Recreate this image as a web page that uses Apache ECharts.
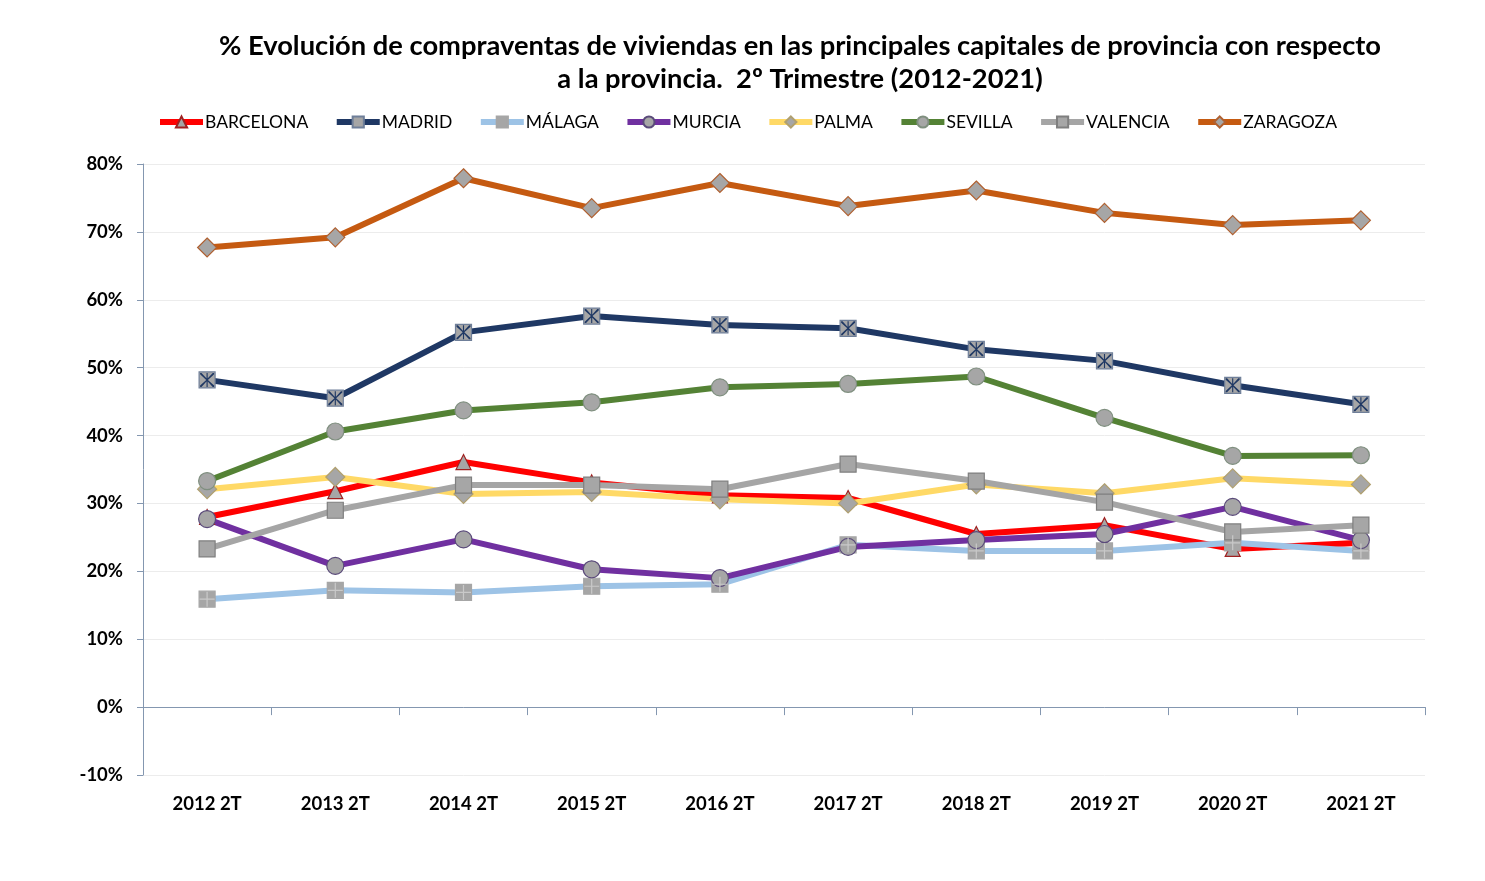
<!DOCTYPE html>
<html>
<head>
<meta charset="utf-8">
<script src="https://cdn.jsdelivr.net/npm/echarts@6/dist/echarts.min.js"></script>
<style>
  html, body { margin: 0; padding: 0; background: #fff; }
  #chart { width: 1485px; height: 881px; }
</style>
</head>
<body>
<div id="chart"></div>
<script>
const categories = ['2012 2T', '2013 2T', '2014 2T', '2015 2T', '2016 2T', '2017 2T', '2018 2T', '2019 2T', '2020 2T', '2021 2T'];
const yTicks = [-10, 80, 10]; // min, max, interval

const barcelona = [28.0, 31.8, 36.1, 33.1, 31.2, 30.8, 25.5, 26.8, 23.3, 24.2];
const madrid    = [48.2, 45.5, 55.2, 57.6, 56.3, 55.8, 52.7, 51.0, 47.4, 44.6];
const malaga    = [15.9, 17.2, 16.9, 17.8, 18.1, 23.9, 23.0, 23.0, 24.2, 23.0];
const murcia    = [27.7, 20.8, 24.7, 20.3, 19.0, 23.6, 24.6, 25.5, 29.5, 24.6];
const palma     = [32.1, 33.9, 31.4, 31.7, 30.6, 30.0, 32.8, 31.5, 33.7, 32.8];
const sevilla   = [33.3, 40.6, 43.7, 44.9, 47.1, 47.6, 48.7, 42.6, 37.0, 37.1];
const valencia  = [23.3, 29.0, 32.7, 32.7, 32.1, 35.8, 33.3, 30.2, 25.8, 26.8];
const zaragoza  = [67.7, 69.2, 77.9, 73.5, 77.2, 73.8, 76.1, 72.8, 71.0, 71.7];

const names = ['BARCELONA', 'MADRID', 'MÁLAGA', 'MURCIA', 'PALMA', 'SEVILLA', 'VALENCIA', 'ZARAGOZA'];

const FONT = 'Lato';
const MARK = '#a6a6a6';

function lineSeries(name, data, color, symbol, size, border) {
    return {
        name: name,
        type: 'line',
        data: data,
        symbol: symbol,
        symbolSize: size,
        showAllSymbol: true,
        lineStyle: { color: color, width: 6 },
        itemStyle: { color: MARK, borderColor: border, borderWidth: 1.2 },
        emphasis: { disabled: true },
        z: 2
    };
}

function overlay(name, data, color, path, size) {
    return {
        name: name,
        type: 'line',
        data: data,
        symbol: path,
        symbolSize: size,
        lineStyle: { opacity: 0 },
        itemStyle: { color: color },
        silent: true,
        z: 3
    };
}

const starPath = 'path://M0,0L1,0L5,4.4L9,0L10,0L10,1L5.6,5L10,9L10,10L9,10L5,5.6L1,10L0,10L0,9L4.4,5L0,1Z M4.6,0L5.4,0L5.4,10L4.6,10Z';
const crossPath = 'path://M4.6,0L5.4,0L5.4,4.6L10,4.6L10,5.4L5.4,5.4L5.4,10L4.6,10L4.6,5.4L0,5.4L0,4.6L4.6,4.6Z';

const chart = echarts.init(document.getElementById('chart'));

chart.setOption({
    backgroundColor: '#fff',
    animation: false,
    title: {
        text: '% Evolución de compraventas de viviendas en las principales capitales de provincia con respecto\na la provincia.  2º Trimestre (2012-2021)',
        left: 795,
        top: 25,
        textAlign: 'center',
        textStyle: { fontFamily: FONT, fontSize: 27.3, fontWeight: 'bold', color: '#000', lineHeight: 33 }
    },
    legend: {
        data: names,
        left: 152,
        top: 108,
        itemWidth: 43,
        itemHeight: 14,
        itemGap: 25.5,
        lineStyle: { width: 6 },
        textStyle: { fontFamily: FONT, fontSize: 17.5, color: '#000', padding: [0, 0, 0, -3] }
    },
    grid: { left: 143, right: 60, top: 164, bottom: 106, containLabel: false },
    xAxis: [
        {
            type: 'category',
            data: categories,
            boundaryGap: true,
            axisLine: { onZero: true, lineStyle: { color: '#8497b0', width: 1 } },
            axisTick: { show: true, length: 8, lineStyle: { color: '#8497b0' } },
            axisLabel: { show: false }
        },
        {
            type: 'category',
            data: categories,
            position: 'bottom',
            boundaryGap: true,
            axisLine: { show: false },
            axisTick: { show: false },
            axisLabel: { margin: 20, fontFamily: FONT, fontSize: 18.5, fontWeight: 'bold', color: '#000' }
        }
    ],
    yAxis: {
        type: 'value',
        min: yTicks[0],
        max: yTicks[1],
        interval: yTicks[2],
        axisLine: { show: true, lineStyle: { color: '#8497b0', width: 1 } },
        axisTick: { show: true, length: 6, lineStyle: { color: '#8497b0' } },
        splitLine: { lineStyle: { color: '#ececec', width: 1 } },
        axisLabel: { formatter: '{value}%', margin: 20, fontFamily: FONT, fontSize: 18.5, fontWeight: 'bold', color: '#000' }
    },
    series: [
        lineSeries('BARCELONA', barcelona, '#ff0000', 'triangle', 15, '#a02020'),
        lineSeries('MADRID', madrid, '#1f3864', 'rect', 16, '#6f7f99'),
        overlay('MADRID_x', madrid, '#1f3864', starPath, 14),
        lineSeries('MÁLAGA', malaga, '#9dc3e6', 'rect', 16, '#a6a6a6'),
        overlay('MALAGA_x', malaga, '#c9c9c9', crossPath, 15),
        lineSeries('MURCIA', murcia, '#7030a0', 'circle', 17, '#5a4a7a'),
        lineSeries('PALMA', palma, '#ffd966', 'diamond', 19, '#b0a070'),
        lineSeries('SEVILLA', sevilla, '#548235', 'circle', 17, '#7f8f7f'),
        lineSeries('VALENCIA', valencia, '#a5a5a5', 'rect', 16, '#7f7f7f'),
        lineSeries('ZARAGOZA', zaragoza, '#c55a11', 'diamond', 19, '#b06030')
    ]
});

window.addEventListener('resize', () => {
    chart.resize();
});
</script>
</body>
</html>
